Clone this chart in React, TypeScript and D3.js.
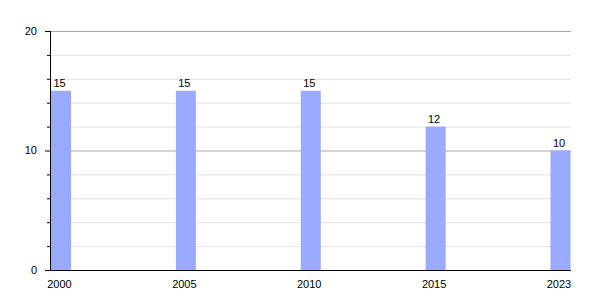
import React from "react";
import * as d3 from "d3";

const categories = ["2000", "2005", "2010", "2015", "2023"];
const values = [15, 15, 15, 12, 10];
const yMajorTicks = [0, 10, 20];
const yMinorTicks = [2, 4, 6, 8, 12, 14, 16, 18];

const W = 600, H = 300;
const left = 50, right = 571, top = 31, bottom = 270;
const barW = 20;

export default function App() {
  const y = d3.scaleLinear().domain([0, 20]).range([bottom, top]);
  const x = d3.scalePoint<string>().domain(categories).range([left + 1 + barW / 2, right - 0.5 - barW / 2]);
  const font = "'Liberation Sans', Arial, sans-serif";
  return (
    <svg width={W} height={H} style={{ position: "absolute", left: 0, top: 0, background: "#fff" }} fontFamily={font}>
      {yMinorTicks.map((t) => (
        <g key={"m" + t}>
          <line x1={left} x2={right} y1={y(t) + 0.5} y2={y(t) + 0.5} stroke="#e2e2e2" />
          <line x1={left - 3} x2={left} y1={y(t) + 0.5} y2={y(t) + 0.5} stroke="#000" />
        </g>
      ))}
      {yMajorTicks.filter((t) => t > 0).map((t) => (
        <line key={"g" + t} x1={left} x2={right} y1={y(t) + 0.5} y2={y(t) + 0.5} stroke="#a8a8a8" />
      ))}
      {categories.map((c, i) => (
        <g key={c}>
          <rect x={x(c)! - barW / 2} y={y(values[i])} width={barW} height={bottom - y(values[i])} fill="#99aaff" />
          <text x={x(c)! - 1.5} y={y(values[i]) - 4} textAnchor="middle" fontSize={11} fill="#000">{values[i]}</text>
          <text x={x(c)! - 1.5} y={bottom + 10} dy="0.71em" textAnchor="middle" fontSize={11} fill="#000">{c}</text>
        </g>
      ))}
      {yMajorTicks.map((t) => (
        <g key={"t" + t}>
          <line x1={left - 5} x2={left} y1={y(t) + 0.5} y2={y(t) + 0.5} stroke="#000" />
          <text x={left - 13} y={y(t)} dy="0.35em" textAnchor="end" fontSize={11} fill="#000">{t}</text>
        </g>
      ))}
      <line x1={left + 0.5} x2={left + 0.5} y1={top} y2={bottom} stroke="#000" />
      <line x1={left - 5} x2={right} y1={bottom + 0.5} y2={bottom + 0.5} stroke="#000" />
    </svg>
  );
}
